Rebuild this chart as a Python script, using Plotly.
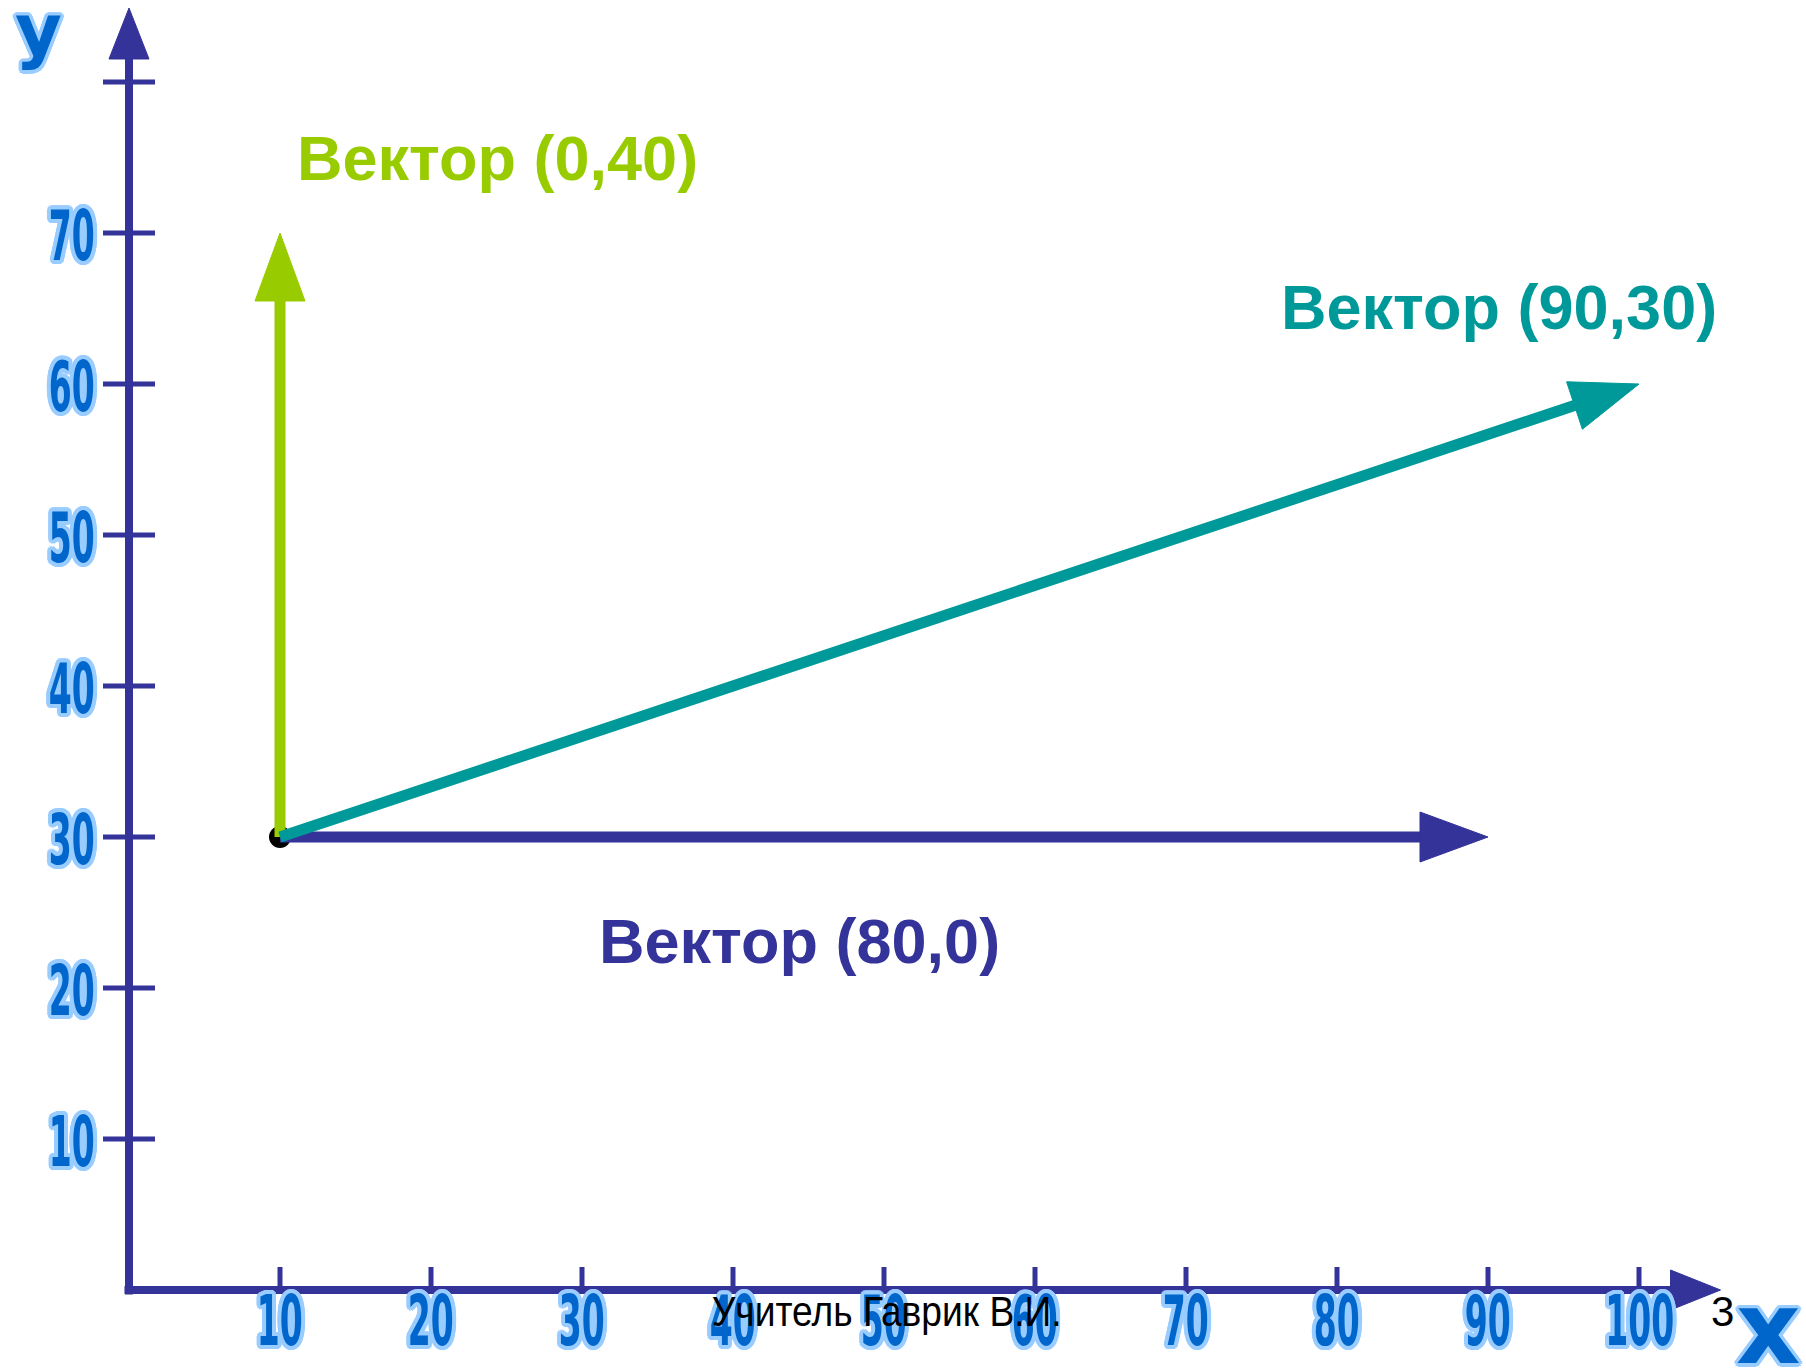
import math
import plotly.graph_objects as go

# ---------------- data ----------------
origin_x = 10
origin_y = 30
vec_dx = [0, 90, 80]
vec_dy = [40, 30, 0]
vec_colors = ["#99CC00", "#009999", "#333399"]
vec_label_x = [24.4, 90.7, 44.4]
vec_label_y = [75.0, 65.1, 23.1]

x_ticks = [10, 20, 30, 40, 50, 60, 70, 80, 90, 100]
x_tick_labels = ["10", "20", "30", "40", "50", "60", "70", "80", "90", "100"]
y_ticks = [10, 20, 30, 40, 50, 60, 70, 80]
y_tick_labels = ["10", "20", "30", "40", "50", "60", "70", ""]

x_axis_end = 105.4
y_axis_end = 84.9

footer_text = "Учитель Гаврик В.И."
page_number = "3"

# ---------------- layout constants ----------------
W, H = 1806, 1368
X0_PX, Y0_PX = 129, 1290
PX = 15.1  # pixels per unit (both axes)
x_range = [-X0_PX / PX, (W - X0_PX) / PX]
y_range = [-(H - Y0_PX) / PX, Y0_PX / PX]

AXIS_COLOR = "#333399"
LABEL_BLUE = "#0066CC"
OUTLINE = "#99CCFF"

def outline_shadow(rx=3, ry=3, color=OUTLINE):
    parts = []
    for k in range(16):
        a = 2 * math.pi * k / 16
        parts.append(f"{rx*math.cos(a):.1f}px {ry*math.sin(a):.1f}px 0 {color}")
    return ", ".join(parts)

fig = go.Figure()

def arrow(x0, y0, x1, y1, color, width, head_len_px, head_w_px):
    dx, dy = x1 - x0, y1 - y0
    n = math.hypot(dx, dy)
    ux, uy = dx / n, dy / n
    L = head_len_px / PX
    Wd = head_w_px / PX / 2
    bx, by = x1 - ux * L, y1 - uy * L
    ex, ey = x1 - ux * L * 0.7, y1 - uy * L * 0.7
    fig.add_trace(go.Scatter(x=[x0, ex], y=[y0, ey], mode="lines",
                             line=dict(color=color, width=width),
                             hoverinfo="skip", showlegend=False))
    px_, py_ = -uy, ux
    fig.add_trace(go.Scatter(
        x=[x1, bx + px_ * Wd, bx - px_ * Wd, x1],
        y=[y1, by + py_ * Wd, by - py_ * Wd, y1],
        mode="lines", fill="toself", fillcolor=color,
        line=dict(color=color, width=1),
        hoverinfo="skip", showlegend=False))

# axes (drawn as arrows)
arrow(-0.3, 0, x_axis_end, 0, AXIS_COLOR, 8, 50, 40)
arrow(0, -0.3, 0, y_axis_end, AXIS_COLOR, 8, 51, 40)

# x ticks (upward)
tx, ty = [], []
for v in x_ticks:
    tx += [v, v, None]
    ty += [0, 23 / PX, None]
fig.add_trace(go.Scatter(x=tx, y=ty, mode="lines",
                         line=dict(color=AXIS_COLOR, width=5),
                         hoverinfo="skip", showlegend=False))
# y ticks (crossing)
tx, ty = [], []
for v in y_ticks:
    tx += [-26 / PX, 26 / PX, None]
    ty += [v, v, None]
fig.add_trace(go.Scatter(x=tx, y=ty, mode="lines",
                         line=dict(color=AXIS_COLOR, width=5),
                         hoverinfo="skip", showlegend=False))

# origin dot
fig.add_trace(go.Scatter(x=[origin_x], y=[origin_y], mode="markers",
                         marker=dict(color="black", size=22),
                         hoverinfo="skip", showlegend=False))

# vectors: green, blue, teal (teal on top)
for i in [0, 2, 1]:
    arrow(origin_x, origin_y, origin_x + vec_dx[i], origin_y + vec_dy[i],
          vec_colors[i], 11, 68, 50)

# vector labels
for i in range(3):
    fig.add_annotation(x=vec_label_x[i], y=vec_label_y[i],
                       text=f"Вектор ({vec_dx[i]},{vec_dy[i]})",
                       showarrow=False, xanchor="center", yanchor="middle",
                       font=dict(family="Liberation Sans, Arial, sans-serif",
                                 size=63, color=vec_colors[i], weight="bold"))

TICK_FONT = dict(family="DejaVu Sans Condensed, DejaVu Sans, sans-serif",
                 size=70, color=LABEL_BLUE, weight="bold",
                 shadow=outline_shadow(6, 3.5))

for v, t in zip(x_ticks, x_tick_labels):
    fig.add_annotation(x=v, y=0, text=t, showarrow=False,
                       xanchor="center", yanchor="middle", yshift=-31,
                       font=TICK_FONT)
for v, t in zip(y_ticks, y_tick_labels):
    if t:
        fig.add_annotation(x=0, y=v, text=t, showarrow=False,
                           xanchor="center", yanchor="middle", xshift=-57, yshift=-3,
                           font=TICK_FONT)

# axis letters
LETTER_SHADOW = outline_shadow(3.5, 3.5)
fig.add_annotation(xref="paper", yref="paper", x=38 / W, y=1 - 30 / H, text="y",
                   showarrow=False, xanchor="center", yanchor="middle",
                   font=dict(family="DejaVu Sans, sans-serif", size=72,
                             color=LABEL_BLUE, weight="bold", shadow=LETTER_SHADOW))
fig.add_annotation(xref="paper", yref="paper", x=1768 / W, y=1 - 1328 / H, text="x",
                   showarrow=False, xanchor="center", yanchor="middle",
                   font=dict(family="DejaVu Sans, sans-serif", size=100,
                             color=LABEL_BLUE, weight="bold", shadow=LETTER_SHADOW))

# footer
FOOT_FONT = dict(family="Liberation Sans, Arial, sans-serif", size=42, color="black")
fig.add_annotation(xref="paper", yref="paper", x=886 / W, y=1 - 1311 / H, text=footer_text,
                   showarrow=False, xanchor="center", yanchor="middle", font=FOOT_FONT)
fig.add_annotation(xref="paper", yref="paper", x=1722 / W, y=1 - 1311 / H, text=page_number,
                   showarrow=False, xanchor="center", yanchor="middle", font=FOOT_FONT)

fig.update_layout(
    width=W, height=H, autosize=False,
    margin=dict(l=0, r=0, t=0, b=0, pad=0),
    paper_bgcolor="white", plot_bgcolor="white",
    xaxis=dict(range=x_range, visible=False, fixedrange=True),
    yaxis=dict(range=y_range, visible=False, fixedrange=True),
    showlegend=False,
)

tick_set = sorted(set(x_tick_labels + [t for t in y_tick_labels if t]))
post = """
document.body.style.margin='0';
document.body.style.overflow='hidden';
var tickSet = %s;
var footer = %s;
function squeeze(t, sx) {
  var cx = parseFloat(t.getAttribute('x')) || 0;
  var old = t.getAttribute('transform') || '';
  t.setAttribute('transform', 'translate(' + (cx * (1 - sx)) + ',0) scale(' + sx + ',1) ' + old);
}
document.querySelectorAll('.annotation-text').forEach(function(t) {
  var s = t.textContent;
  var bb;
  try { bb = t.getBBox(); } catch (e) { return; }
  if (!bb || !bb.width) return;
  if (tickSet.indexOf(s) >= 0) {
    squeeze(t, (23 * s.length) / bb.width);
  } else if (s === footer) {
    squeeze(t, 350 / bb.width);
  }
});
""" % (str(tick_set).replace("'", '"'), '"' + footer_text + '"')

fig.write_html("out.html", config={"displayModeBar": False}, post_script=post)
